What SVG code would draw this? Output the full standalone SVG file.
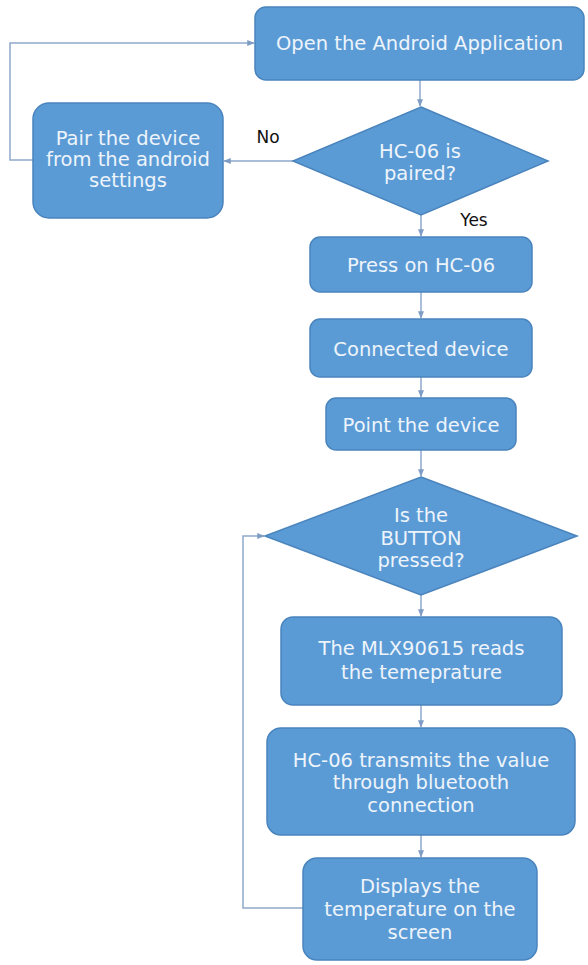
<svg xmlns="http://www.w3.org/2000/svg" width="588" height="965" viewBox="0 0 588 965">
<defs>
<style>
.n{fill:#5b9bd5;stroke:#4a84bd;stroke-width:1.5}
.t{font-family:"DejaVu Sans",Verdana,sans-serif;font-size:19.5px;fill:#eef4fb;text-anchor:middle}
.l{font-family:"DejaVu Sans",Verdana,sans-serif;font-size:17px;fill:#111;text-anchor:middle}
.c{fill:none;stroke:#8fa9cc;stroke-width:1.5}
</style>
<marker id="a" viewBox="0 0 10 10" refX="9" refY="5" markerWidth="5" markerHeight="5" orient="auto">
<path d="M0,1 L10,5 L0,9 z" fill="#7f9cc4"/>
</marker>
</defs>
<rect width="588" height="965" fill="#ffffff"/>
<g id="connectors">
<polyline class="c" points="33,160 10,160 10,43 254,43" marker-end="url(#a)"/>
<line class="c" x1="420" y1="80" x2="420" y2="106" marker-end="url(#a)"/>
<line class="c" x1="293" y1="161" x2="224" y2="161" marker-end="url(#a)"/>
<line class="c" x1="421" y1="215" x2="421" y2="236" marker-end="url(#a)"/>
<line class="c" x1="421" y1="292" x2="421" y2="318" marker-end="url(#a)"/>
<line class="c" x1="421" y1="377" x2="421" y2="397" marker-end="url(#a)"/>
<line class="c" x1="421" y1="450" x2="421" y2="476" marker-end="url(#a)"/>
<line class="c" x1="421" y1="595" x2="421" y2="616" marker-end="url(#a)"/>
<line class="c" x1="421" y1="705" x2="421" y2="727" marker-end="url(#a)"/>
<line class="c" x1="421" y1="835" x2="421" y2="857" marker-end="url(#a)"/>
<polyline class="c" points="303,908 243,908 243,536 264,536" marker-end="url(#a)"/>
<text class="l" x="268" y="143">No</text>
<text class="l" x="474" y="226">Yes</text>
</g>
<g id="open-app">
<rect class="n" x="255" y="7" width="329" height="73" rx="11"/>
<text class="t" x="419.5" y="50">Open the Android Application</text>
</g>
<g id="paired-decision">
<polygon class="n" points="421,107 548,161 421,215 293,161"/>
<text class="t" x="420" y="158">HC-06 is</text>
<text class="t" x="420" y="180">paired?</text>
</g>
<g id="pair-device">
<rect class="n" x="33" y="103" width="190" height="115" rx="16"/>
<text class="t" x="128" y="145">Pair the device</text>
<text class="t" x="128" y="166">from the android</text>
<text class="t" x="128" y="187">settings</text>
</g>
<g id="press">
<rect class="n" x="310" y="237" width="222" height="55" rx="10"/>
<text class="t" x="421" y="272">Press on HC-06</text>
</g>
<g id="connected">
<rect class="n" x="310" y="319" width="222" height="58" rx="10"/>
<text class="t" x="421" y="356">Connected device</text>
</g>
<g id="point">
<rect class="n" x="326" y="398" width="190" height="52" rx="10"/>
<text class="t" x="421" y="432">Point the device</text>
</g>
<g id="button-decision">
<polygon class="n" points="421,477 577,536 421,595 265,536"/>
<text class="t" x="421" y="522">Is the</text>
<text class="t" x="421" y="545">BUTTON</text>
<text class="t" x="421" y="567">pressed?</text>
</g>
<g id="mlx">
<rect class="n" x="281" y="617" width="281" height="88" rx="12"/>
<text class="t" x="421.5" y="655">The MLX90615 reads</text>
<text class="t" x="421.5" y="679">the temeprature</text>
</g>
<g id="transmit">
<rect class="n" x="267" y="728" width="308" height="107" rx="14"/>
<text class="t" x="421" y="767">HC-06 transmits the value</text>
<text class="t" x="421" y="789">through bluetooth</text>
<text class="t" x="421" y="812">connection</text>
</g>
<g id="display">
<rect class="n" x="303" y="858" width="234" height="102" rx="14"/>
<text class="t" x="420" y="893">Displays the</text>
<text class="t" x="420" y="916">temperature on the</text>
<text class="t" x="420" y="939">screen</text>
</g>
</svg>
